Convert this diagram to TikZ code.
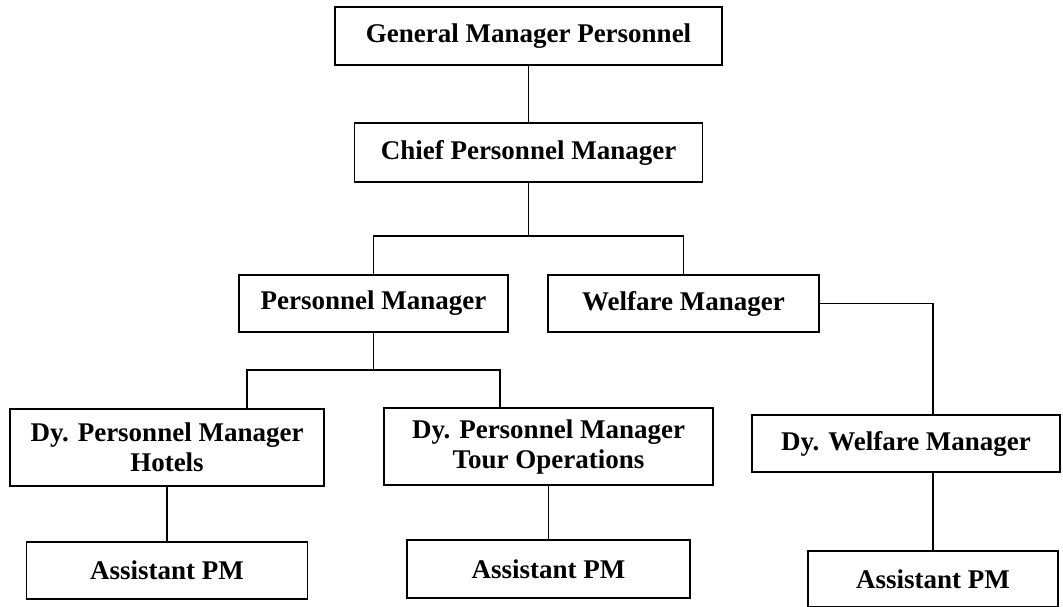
\documentclass[tikz,border=0pt]{standalone}
\usepackage{fontspec}
\setmainfont{Liberation Serif}
\usetikzlibrary{calc}

\begin{document}
\begin{tikzpicture}[-, x=1pt, y=-1pt, line width=1.9pt,
  post/.style={rectangle, draw, inner sep=0pt, align=center, font=\fontsize{27}{30}\selectfont\bfseries},
  wide post/.style={post, minimum width=#1, minimum height=57pt},
  tall post/.style={post, minimum width=#1, minimum height=77pt}]
\useasboundingbox (0,0) rectangle (1063,606);
\node[post, minimum width=387pt, minimum height=58pt] (gmp) at (528.5,36) {General Manager Personnel};
\node[post, minimum width=348pt, minimum height=59pt] (cpm) at (528.5,152.5) {Chief Personnel Manager};
\node[wide post=269pt] (pm) at (373.5,303.5) {Personnel Manager};
\node[wide post=271pt] (wm) at (683.5,303.5) {Welfare Manager};
\node[tall post=314pt] (hot) at (167,447.5) {Dy. Personnel Manager\\Hotels};
\node[tall post=329pt] (tour) at (548.5,446.5) {Dy. Personnel Manager\\Tour Operations};
\node[wide post=308pt] (dwm) at (906,443.5) {Dy. Welfare Manager};
\node[wide post=281pt] (ap1) at (167,570.5) {Assistant PM};
\node[wide post=283pt, minimum height=58pt] (ap2) at (548.5,569) {Assistant PM};
\node[wide post=250pt, minimum height=56pt] (ap3) at (933,579) {Assistant PM};
% junctions
\coordinate (j1) at (528.5,236);
\coordinate (j2) at (373.5,370);
\coordinate (hl) at (247,370);
\coordinate (tl) at (500,370);
\path
(gmp) edge (cpm)
(hot) edge (ap1)
(tour) edge (ap2);
\draw (cpm) -- (j1);
\draw (pm.north) |- (j1) -| (wm.north);
\draw (pm) -- (j2);
\draw (hl |- hot.north) -- (hl) -- (tl) -- (tl |- tour.north);
\draw (wm.east) -| (ap3.north |- dwm.north);
\draw (ap3.north |- dwm.south) -- (ap3.north);
\end{tikzpicture}
\end{document}
